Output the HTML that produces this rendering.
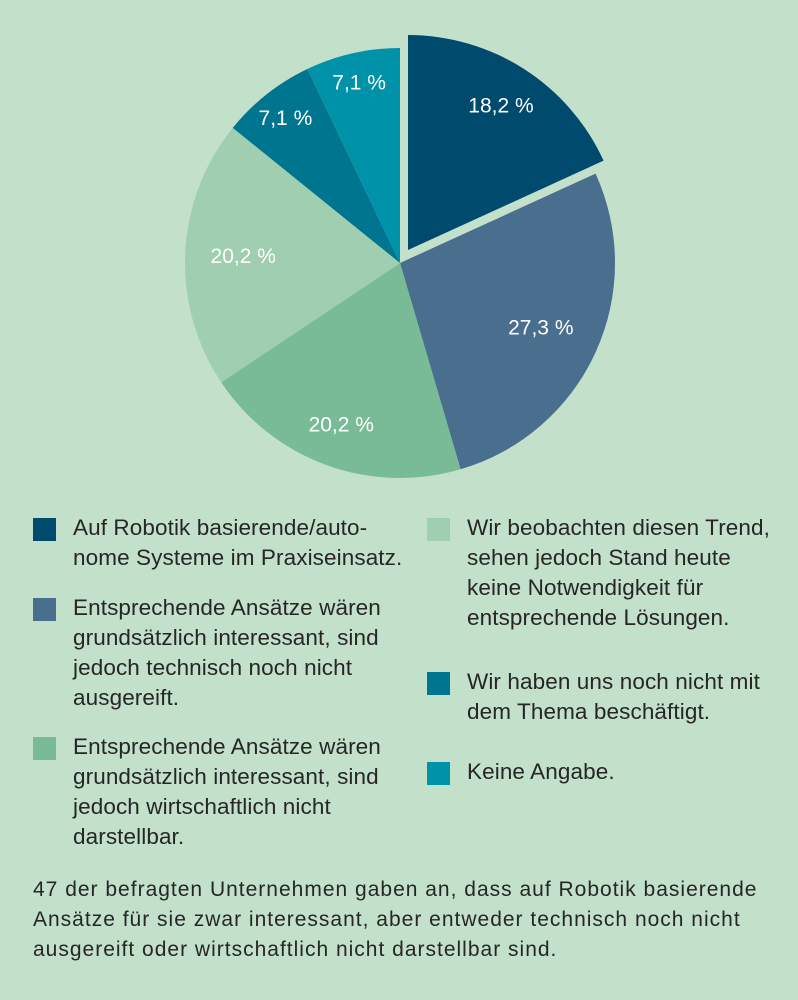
<!DOCTYPE html>
<html><head><meta charset="utf-8"><style>
body{margin:0;background:#c3e0cb;}
#wrap{position:relative;width:798px;height:1000px;background:#c3e0cb;font-family:"Liberation Sans",sans-serif;color:#262626;overflow:hidden}
.item{position:absolute;font-size:22.5px;line-height:30px;letter-spacing:0.1px;white-space:nowrap}
.sw{position:absolute;width:23px;height:23px;left:-40px;top:5px}
#foot{position:absolute;left:33px;top:875px;font-size:21px;line-height:30px;letter-spacing:1px;width:780px;white-space:nowrap}
</style></head><body>
<div id="wrap">
<svg id="pie" width="798" height="490" style="position:absolute;left:0;top:0"></svg>
<div class="item" style="left:73px;top:513px"><span class="sw" style="background:#004a6e"></span>Auf Robotik basierende/auto-<br>nome Systeme im Praxiseinsatz.</div>
<div class="item" style="left:73px;top:593px"><span class="sw" style="background:#4a6e8e"></span>Entsprechende Ansätze wären<br>grundsätzlich interessant, sind<br>jedoch technisch noch nicht<br>ausgereift.</div>
<div class="item" style="left:73px;top:732px"><span class="sw" style="background:#79bb96"></span>Entsprechende Ansätze wären<br>grundsätzlich interessant, sind<br>jedoch wirtschaftlich nicht<br>darstellbar.</div>
<div class="item" style="left:467px;top:513px"><span class="sw" style="background:#9fcfb0"></span>Wir beobachten diesen Trend,<br>sehen jedoch Stand heute<br>keine Notwendigkeit für<br>entsprechende Lösungen.</div>
<div class="item" style="left:467px;top:667px"><span class="sw" style="background:#00758f"></span>Wir haben uns noch nicht mit<br>dem Thema beschäftigt.</div>
<div class="item" style="left:467px;top:757px"><span class="sw" style="background:#0092a8"></span>Keine Angabe.</div>
<div id="foot">47 der befragten Unternehmen gaben an, dass auf Robotik basierende<br>Ansätze für sie zwar interessant, aber entweder technisch noch nicht<br>ausgereift oder wirtschaftlich nicht darstellbar sind.</div>
</div>
<script>
const categories = ["Praxiseinsatz","Technisch nicht ausgereift","Wirtschaftlich nicht darstellbar","Trend beobachtet","Nicht beschäftigt","Keine Angabe"];
const values = [18.2, 27.3, 20.2, 20.2, 7.1, 7.1];
const labels = ["18,2 %","27,3 %","20,2 %","20,2 %","7,1 %","7,1 %"];
const colors = ["#004a6e","#4a6e8e","#79bb96","#9fcfb0","#00758f","#0092a8"];
const svg=document.getElementById('pie');
const NS='http://www.w3.org/2000/svg';
const cx=400,cy=263,R=215;
const labelR=[0.80,0.72,0.80,0.73,0.86,0.86];
const total=values.reduce((a,b)=>a+b,0);
function pt(x,y,r,a){return [x+r*Math.sin(a),y-r*Math.cos(a)];}
let start=0;
values.forEach((v,i)=>{
  const sweep=v/total*2*Math.PI, end=start+sweep, mid=start+sweep/2;
  let x=cx,y=cy;
  if(i===0){x+=8;y-=13;}
  const p1=pt(x,y,R,start),p2=pt(x,y,R,end);
  const path=document.createElementNS(NS,'path');
  path.setAttribute('d',`M${x},${y}L${p1[0]},${p1[1]}A${R},${R} 0 ${sweep>Math.PI?1:0} 1 ${p2[0]},${p2[1]}Z`);
  path.setAttribute('fill',colors[i]);
  
  
  svg.appendChild(path);
  const lp=pt(x,y,labelR[i]*R,mid);
  const t=document.createElementNS(NS,'text');
  t.setAttribute('x',lp[0]);t.setAttribute('y',lp[1]+7);
  t.setAttribute('text-anchor','middle');t.setAttribute('fill','#fff');
  t.setAttribute('font-size','21');t.setAttribute('font-family','Liberation Sans, sans-serif');
  t.textContent=labels[i];
  
  
  svg.appendChild(t);
  start=end;
});
</script>
</body></html>
